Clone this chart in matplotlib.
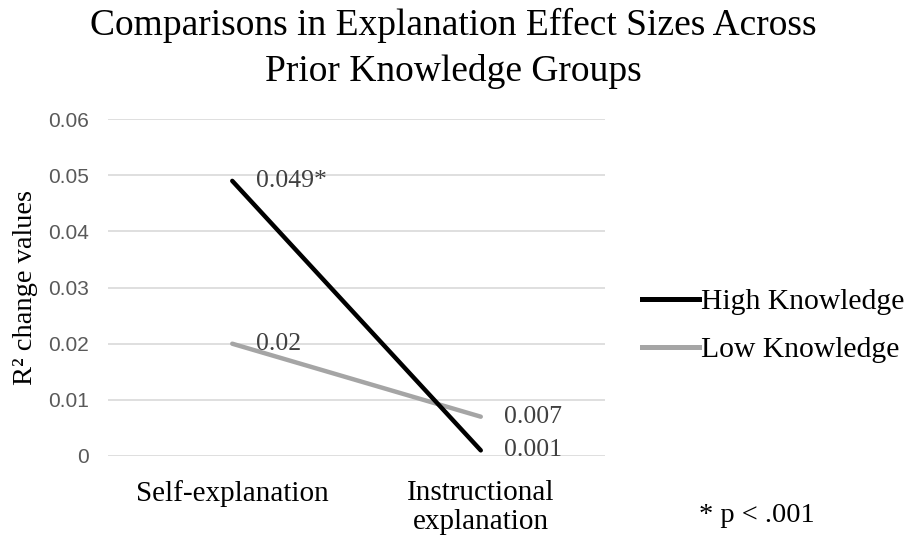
import matplotlib
matplotlib.use("Agg")
import matplotlib.pyplot as plt
from matplotlib.lines import Line2D

categories = ["Self-explanation", "Instructional\nexplanation"]
high_knowledge = [0.049, 0.001]
low_knowledge = [0.02, 0.007]
high_labels = ["0.049*", "0.001"]
low_labels = ["0.02", "0.007"]
y_ticks = [0, 0.01, 0.02, 0.03, 0.04, 0.05, 0.06]
y_tick_labels = ["0", "0.01", "0.02", "0.03", "0.04", "0.05", "0.06"]

SERIF = "Liberation Serif"
SANS = "Liberation Sans"
HIGH_COLOR = "#000000"
LOW_COLOR = "#A5A5A5"

fig = plt.figure(figsize=(9.06, 5.39), dpi=100)
ax = fig.add_axes([0.1192, 0.154, 0.5486, 0.625])

xs = list(range(len(categories)))
ax.plot(xs, high_knowledge, color=HIGH_COLOR, lw=3.2, solid_capstyle="round", zorder=3)
ax.plot(xs, low_knowledge, color=LOW_COLOR, lw=3.2, solid_capstyle="round", zorder=2)

# data labels sit to the right of each point
for x, y, lab in zip(xs, high_knowledge, high_labels):
    ax.annotate(lab, (x, y), xytext=(17, 0), textcoords="offset points",
                ha="left", va="center", fontsize=18.5, family=SERIF, color="#404040")
for x, y, lab in zip(xs, low_knowledge, low_labels):
    ax.annotate(lab, (x, y), xytext=(17, 0), textcoords="offset points",
                ha="left", va="center", fontsize=18.5, family=SERIF, color="#404040")

ax.set_xlim(-0.5, 1.5)
ax.set_ylim(0, 0.06)
ax.set_yticks(y_ticks)
ax.set_yticklabels(y_tick_labels, family=SANS, fontsize=15, color="#595959")
ax.set_xticks(xs)
ax.set_xticklabels(categories, family=SERIF, fontsize=21, color="#000000",
                   linespacing=1.15)
ax.tick_params(axis="both", length=0)
ax.tick_params(axis="y", pad=14)
ax.tick_params(axis="x", pad=17)
ax.grid(axis="y", color="#D9D9D9", lw=1.2)
ax.set_axisbelow(True)
for s in ax.spines.values():
    s.set_visible(False)

ax.set_ylabel("R² change values", family=SERIF, fontsize=20.5, labelpad=7)

fig.text(0.5, 1 - 8 / 539, "Comparisons in Explanation Effect Sizes Across\nPrior Knowledge Groups",
         family=SERIF, fontsize=27, ha="center", va="top", linespacing=1.42)

handles = [Line2D([], [], color=HIGH_COLOR, lw=3.6),
           Line2D([], [], color=LOW_COLOR, lw=3.6)]
fig.legend(handles, ["High Knowledge", "Low Knowledge"], loc="center left",
           bbox_to_anchor=(0.709, 0.396), frameon=False, borderpad=0, borderaxespad=0,
           prop={"family": SERIF, "size": 21.3}, handlelength=1.9,
           handletextpad=0.08, labelspacing=0.72)

fig.text(0.772, 1 - 515 / 539, "* p < .001", family=SERIF, fontsize=20.5,
         ha="left", va="center")

fig.savefig("out.png", dpi=100)
